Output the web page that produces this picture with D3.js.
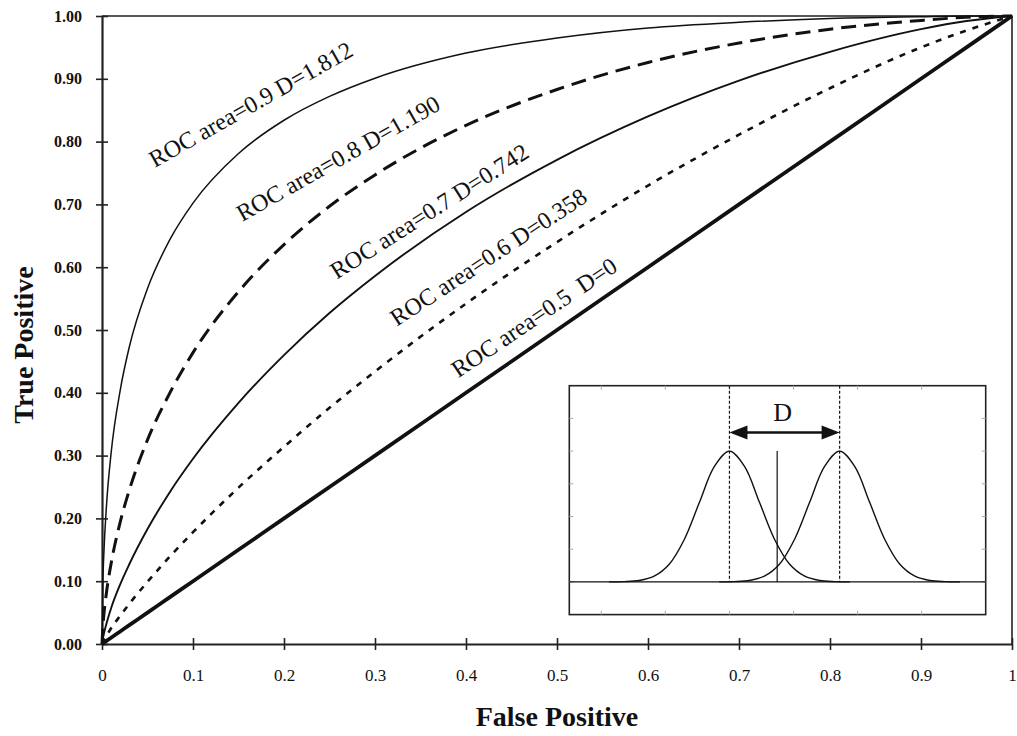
<!DOCTYPE html>
<html>
<head>
<meta charset="utf-8">
<script src="https://cdn.jsdelivr.net/npm/d3@7"></script>
<style>
  body { margin: 0; background: #fff; }
  text { font-family: "Liberation Serif", "Times New Roman", serif; fill: #111; }
</style>
</head>
<body>
<script>
'use strict';

// false positive rate grid shared by the ROC curves
const fpr = [0, 0.001, 0.002, 0.005, 0.01, 0.02, 0.03, 0.05, 0.075, 0.1, 0.15, 0.2,
             0.25, 0.3, 0.4, 0.5, 0.6, 0.7, 0.8, 0.9, 0.95, 1];

const tpr09 = [0, 0.101, 0.143, 0.222, 0.304, 0.404, 0.473, 0.566, 0.645, 0.702, 0.781, 0.834,
               0.872, 0.901, 0.941, 0.965, 0.981, 0.990, 0.996, 0.999, 1.000, 1];
const tpr08 = [0, 0.029, 0.046, 0.083, 0.128, 0.194, 0.245, 0.325, 0.401, 0.464, 0.561, 0.636,
               0.697, 0.747, 0.826, 0.883, 0.926, 0.957, 0.979, 0.993, 0.998, 1];
const tpr07 = [0, 0.009, 0.016, 0.033, 0.057, 0.095, 0.127, 0.183, 0.243, 0.295, 0.384, 0.460,
               0.527, 0.586, 0.688, 0.771, 0.840, 0.897, 0.943, 0.979, 0.992, 1];
const tpr06 = [0, 0.003, 0.006, 0.013, 0.025, 0.045, 0.064, 0.099, 0.140, 0.178, 0.249, 0.314,
               0.376, 0.434, 0.542, 0.640, 0.730, 0.811, 0.885, 0.950, 0.977, 1];
const tpr05 = fpr.slice();

const curveLabels = ['ROC area=0.9 D=1.812', 'ROC area=0.8 D=1.190', 'ROC area=0.7 D=0.742',
                     'ROC area=0.6 D=0.358', 'ROC area=0.5  D=0'];

const xTicks = [0, 0.1, 0.2, 0.3, 0.4, 0.5, 0.6, 0.7, 0.8, 0.9, 1];
const yTicks = [0, 0.1, 0.2, 0.3, 0.4, 0.5, 0.6, 0.7, 0.8, 0.9, 1];

// inset: two normal curves (height at z = offset in sd)
const bellZ = [-4, -3.5, -3, -2.5, -2, -1.5, -1, -0.5, 0, 0.5, 1, 1.5, 2, 2.5, 3, 3.5, 4];
const bellH = [0.001, 0.009, 0.044, 0.176, 0.541, 1.298, 2.426, 3.530, 4.0,
               3.530, 2.426, 1.298, 0.541, 0.176, 0.044, 0.009, 0.001];
const bellMeans = [2.0, 3.72];
const bellSd = 0.47;
const threshold = 2.745;
const insetXTicks = [0, 1, 2, 3, 4, 5];
const insetYTicks = [0, 1, 2, 3, 4, 5];

const W = 1017, H = 736;
const svg = d3.select('body').append('svg')
  .attr('width', W).attr('height', H);

const x = d3.scaleLinear().domain([0, 1]).range([102, 1012]);
const y = d3.scaleLinear().domain([0, 1]).range([644, 16]);

// frame top / right
svg.append('path')
  .attr('d', `M${x(0)},${y(1)}H${x(1)}V${y(0)}`)
  .attr('fill', 'none').attr('stroke', '#222').attr('stroke-width', 1.6);

// y axis
const gy = svg.append('g').attr('transform', `translate(${x(0)},0)`)
  .call(d3.axisLeft(y).tickValues(yTicks).tickFormat(d3.format('.2f'))
    .tickSize(6).tickSizeOuter(0).tickPadding(14));
gy.attr('font-family', null).attr('font-size', null);
gy.select('.domain').attr('stroke', '#222').attr('stroke-width', 2.2);
gy.selectAll('.tick line').attr('x1', 6).attr('stroke', '#222').attr('stroke-width', 1.6);
gy.selectAll('.tick text').attr('font-size', 16).attr('font-weight', 'bold').attr('fill', '#111');

// x axis
const gx = svg.append('g').attr('transform', `translate(0,${y(0)})`)
  .call(d3.axisBottom(x).tickValues(xTicks)
    .tickFormat(d => (d === 0 || d === 1) ? String(d) : d.toFixed(1))
    .tickSize(6).tickSizeOuter(0).tickPadding(19));
gx.attr('font-family', null).attr('font-size', null);
gx.select('.domain').attr('stroke', '#222').attr('stroke-width', 2.2);
gx.selectAll('.tick line').attr('y1', -6).attr('stroke', '#222').attr('stroke-width', 1.6);
gx.selectAll('.tick text').attr('font-size', 17).attr('fill', '#111');

// axis titles
svg.append('text')
  .attr('x', (x(0) + x(1)) / 2).attr('y', 726)
  .attr('text-anchor', 'middle').attr('font-size', 28).attr('font-weight', 'bold')
  .text('False Positive');
svg.append('text')
  .attr('transform', 'translate(33,345) rotate(-90)')
  .attr('text-anchor', 'middle').attr('font-size', 28).attr('font-weight', 'bold')
  .text('True Positive');

// ROC curves
const line = d3.line()
  .x(d => x(d[0])).y(d => y(d[1]))
  .curve(d3.curveMonotoneX);

const series = [
  { tpr: tpr09, width: 1.5, dash: null },
  { tpr: tpr08, width: 3.0, dash: '15,8' },
  { tpr: tpr07, width: 1.9, dash: null },
  { tpr: tpr06, width: 2.6, dash: '6,7' },
  { tpr: tpr05, width: 3.8, dash: null }
];

series.forEach(s => {
  svg.append('path')
    .datum(fpr.map((f, i) => [f, s.tpr[i]]))
    .attr('d', line)
    .attr('fill', 'none')
    .attr('stroke', '#111')
    .attr('stroke-width', s.width)
    .attr('stroke-dasharray', s.dash)
    .attr('stroke-linejoin', 'round');
});

// curve labels (start point in data units, angle in degrees)
const labelPos = [
  [0.058, 0.758, -29.5],
  [0.154, 0.672, -29.5],
  [0.258, 0.580, -32.5],
  [0.324, 0.505, -33.3],
  [0.3915, 0.423, -34]
];
curveLabels.forEach((t, i) => {
  const p = labelPos[i];
  svg.append('text')
    .attr('transform', `translate(${x(p[0])},${y(p[1])}) rotate(${p[2]})`)
    .attr('font-size', 24)
    .style('white-space', 'pre')
    .text(t);
});

// inset
const ix = d3.scaleLinear().domain([-0.5, 6]).range([569.3, 985.7]);
const iy = d3.scaleLinear().domain([-1, 6]).range([614.6, 385.7]);
const inset = svg.append('g');

inset.append('rect')
  .attr('x', ix(-0.5)).attr('y', iy(6))
  .attr('width', ix(6) - ix(-0.5)).attr('height', iy(-1) - iy(6))
  .attr('fill', '#fff').attr('stroke', '#222').attr('stroke-width', 1.6);

// faint inner ticks
insetXTicks.forEach(t => {
  inset.append('line').attr('x1', ix(t)).attr('x2', ix(t))
    .attr('y1', iy(6)).attr('y2', iy(6) + 4).attr('stroke', '#aaa');
  inset.append('line').attr('x1', ix(t)).attr('x2', ix(t))
    .attr('y1', iy(-1)).attr('y2', iy(-1) - 4).attr('stroke', '#aaa');
});
insetYTicks.forEach(t => {
  inset.append('line').attr('x1', ix(-0.5)).attr('x2', ix(-0.5) + 4)
    .attr('y1', iy(t)).attr('y2', iy(t)).attr('stroke', '#aaa');
  inset.append('line').attr('x1', ix(6)).attr('x2', ix(6) - 4)
    .attr('y1', iy(t)).attr('y2', iy(t)).attr('stroke', '#aaa');
});

// baseline
inset.append('line')
  .attr('x1', ix(-0.5)).attr('x2', ix(6))
  .attr('y1', iy(0)).attr('y2', iy(0))
  .attr('stroke', '#111').attr('stroke-width', 1.3);

const bell = d3.line()
  .x(d => ix(d[0])).y(d => iy(d[1]))
  .curve(d3.curveCatmullRom);

bellMeans.forEach(m => {
  inset.append('path')
    .datum(bellZ.map((z, i) => [m + z * bellSd, bellH[i]]))
    .attr('d', bell)
    .attr('fill', 'none').attr('stroke', '#111').attr('stroke-width', 1.4);
  inset.append('line')
    .attr('x1', ix(m)).attr('x2', ix(m))
    .attr('y1', iy(6)).attr('y2', iy(0))
    .attr('stroke', '#111').attr('stroke-width', 1.2)
    .attr('stroke-dasharray', '3,2');
});

// threshold
inset.append('line')
  .attr('x1', ix(threshold)).attr('x2', ix(threshold))
  .attr('y1', iy(0)).attr('y2', iy(4))
  .attr('stroke', '#111').attr('stroke-width', 1.2);

// D arrow
const ay = iy(4.57);
const a0 = ix(bellMeans[0]), a1 = ix(bellMeans[1]);
inset.append('line')
  .attr('x1', a0 + 10).attr('x2', a1 - 10)
  .attr('y1', ay).attr('y2', ay)
  .attr('stroke', '#111').attr('stroke-width', 2.4);
inset.append('path')
  .attr('d', `M${a0},${ay}L${a0 + 18},${ay - 7}L${a0 + 18},${ay + 7}Z`)
  .attr('fill', '#111');
inset.append('path')
  .attr('d', `M${a1},${ay}L${a1 - 18},${ay - 7}L${a1 - 18},${ay + 7}Z`)
  .attr('fill', '#111');
inset.append('text')
  .attr('x', (a0 + a1) / 2 - 2).attr('y', 421)
  .attr('text-anchor', 'middle').attr('font-size', 26)
  .text('D');
</script>
</body>
</html>
